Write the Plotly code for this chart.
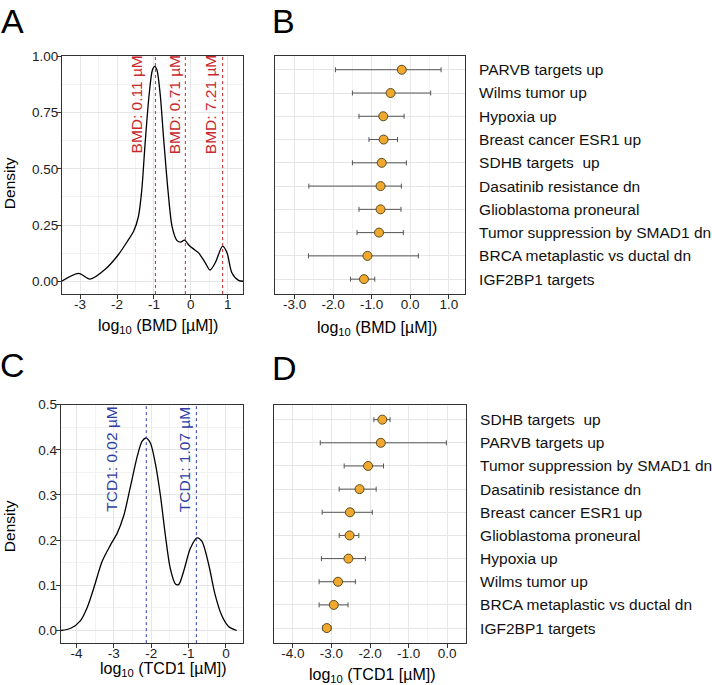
import plotly.graph_objects as go

W, H = 712, 685

# ---------------- data ----------------
# Panel A: density of log10(BMD)
bmd_x = [-3.50, -3.04, -2.73, -2.32, -1.96, -1.69, -1.55, -1.42, -1.33, -1.24, -1.13, -1.04,
         -0.98, -0.92, -0.83, -0.74, -0.62, -0.51, -0.38, -0.28, -0.17, -0.05, 0.10, 0.21,
         0.39, 0.52, 0.66, 0.86, 0.98, 1.11, 1.29, 1.43]
bmd_y = [0.000, 0.035, 0.009, 0.053, 0.119, 0.185, 0.222, 0.288, 0.405, 0.611, 0.831, 0.941,
         0.956, 0.941, 0.831, 0.640, 0.405, 0.244, 0.182, 0.174, 0.183, 0.160, 0.140, 0.126,
         0.082, 0.050, 0.082, 0.156, 0.126, 0.038, 0.004, 0.000]
bmd_lines = [-0.96, -0.15, 0.86]
bmd_line_labels = ["BMD: 0.11 µM", "BMD: 0.71 µM", "BMD: 7.21 µM"]

# Panel B
b_sets = ["PARVB targets up", "Wilms tumor up", "Hypoxia up", "Breast cancer ESR1 up",
          "SDHB targets  up", "Dasatinib resistance dn", "Glioblastoma proneural",
          "Tumor suppression by SMAD1 dn", "BRCA metaplastic vs ductal dn", "IGF2BP1 targets"]
b_mid = [-0.22, -0.51, -0.70, -0.69, -0.74, -0.77, -0.77, -0.81, -1.11, -1.20]
b_low = [-1.94, -1.50, -1.33, -1.07, -1.50, -2.63, -1.33, -1.38, -2.64, -1.55]
b_high = [0.80, 0.53, -0.16, -0.33, -0.10, -0.23, -0.24, -0.18, 0.21, -0.92]

# Panel C: density of log10(TCD1)
tcd_x = [-4.42, -4.15, -3.89, -3.71, -3.53, -3.31, -3.09, -2.91, -2.73, -2.55, -2.37, -2.24,
         -2.13, -2.02, -1.89, -1.75, -1.62, -1.49, -1.35, -1.26, -1.13, -0.95, -0.77, -0.64,
         -0.46, -0.29, -0.11, 0.07, 0.29]
tcd_y = [0.000, 0.005, 0.022, 0.051, 0.095, 0.153, 0.189, 0.215, 0.255, 0.320, 0.386, 0.419,
         0.426, 0.415, 0.371, 0.298, 0.211, 0.138, 0.103, 0.102, 0.131, 0.182, 0.205, 0.197,
         0.146, 0.080, 0.033, 0.009, 0.000]
tcd_lines = [-2.13, -0.79]
tcd_line_labels = ["TCD1: 0.02 µM", "TCD1: 1.07 µM"]

# Panel D
d_sets = ["SDHB targets  up", "PARVB targets up", "Tumor suppression by SMAD1 dn",
          "Dasatinib resistance dn", "Breast cancer ESR1 up", "Glioblastoma proneural",
          "Hypoxia up", "Wilms tumor up", "BRCA metaplastic vs ductal dn", "IGF2BP1 targets"]
d_mid = [-1.68, -1.72, -2.05, -2.27, -2.52, -2.53, -2.56, -2.83, -2.94, -3.12]
d_low = [-1.90, -3.29, -2.67, -2.80, -3.24, -2.80, -3.26, -3.32, -3.32, -3.23]
d_high = [-1.48, -0.02, -1.65, -1.84, -1.94, -2.29, -2.12, -2.38, -2.57, -3.01]

a_xticks = [-3, -2, -1, 0, 1]
a_xlabels = ["-3", "-2", "-1", "0", "1"]
a_yticks = [0, 0.25, 0.5, 0.75, 1.0]
a_ylabels = ["0.00", "0.25", "0.50", "0.75", "1.00"]
b_xticks = [-3, -2, -1, 0, 1]
b_xlabels = ["-3.0", "-2.0", "-1.0", "0.0", "1.0"]
c_xticks = [-4, -3, -2, -1, 0]
c_xlabels = ["-4", "-3", "-2", "-1", "0"]
c_yticks = [0, 0.1, 0.2, 0.3, 0.4, 0.5]
c_ylabels = ["0.0", "0.1", "0.2", "0.3", "0.4", "0.5"]
d_xticks = [-4, -3, -2, -1, 0]
d_xlabels = ["-4.0", "-3.0", "-2.0", "-1.0", "0.0"]

# ---------------- style ----------------
FONT = "Arial, Liberation Sans, sans-serif"
RED = "#C8282D"
BLUE = "#2F3FA6"
GRID = "#E6E6E6"
GRID_MINOR = "#F2F2F2"
AXC = "#333333"
ORANGE = "#F0A82E"


def px(x):
    return x / W


def py(y):
    return 1 - y / H


def axis_common(**kw):
    d = dict(showline=True, linecolor=AXC, linewidth=1, mirror=True,
             showgrid=True, gridcolor=GRID, gridwidth=1, zeroline=False,
             tickfont=dict(family=FONT, size=13.5, color="#222222"),
             ticks="outside", ticklen=4, tickcolor=AXC, tickwidth=1)
    d.update(kw)
    return d


fig = go.Figure()

# Panel A
fig.add_trace(go.Scatter(x=bmd_x, y=bmd_y, mode="lines", line=dict(color="black", width=1.3, shape="spline", smoothing=0.8),
                         xaxis="x", yaxis="y", showlegend=False, hoverinfo="skip"))
# Panel C
fig.add_trace(go.Scatter(x=tcd_x, y=tcd_y, mode="lines", line=dict(color="black", width=1.3, shape="spline", smoothing=0.8),
                         xaxis="x3", yaxis="y3", showlegend=False, hoverinfo="skip"))


def disp(s):
    return s.replace("  ", "\u00a0 ")


def forest(sets, mid, low, high, xa, ya):
    fig.add_trace(go.Scatter(
        x=mid, y=sets, mode="markers", xaxis=xa, yaxis=ya, showlegend=False,
        marker=dict(size=9, color=ORANGE, line=dict(color="#5A4A22", width=1)),
        error_x=dict(type="data", symmetric=False,
                     array=[h - m for h, m in zip(high, mid)],
                     arrayminus=[m - l for m, l in zip(mid, low)],
                     color="#555555", thickness=1, width=2.5)))


forest(b_sets, b_mid, b_low, b_high, "x2", "y2")
forest(d_sets, d_mid, d_low, d_high, "x4", "y4")

shapes = []
annotations = []

for v, lab, dx in zip(bmd_lines, bmd_line_labels, [-18.5, -11, -12.5]):
    shapes.append(dict(type="line", xref="x", yref="y domain", x0=v, x1=v, y0=0, y1=1,
                       line=dict(color=RED, width=1, dash="dot")))
    annotations.append(dict(x=v, xref="x", y=py(47), yref="paper", text=lab, textangle=-90,
                            showarrow=False, xanchor="center", yanchor="top", xshift=dx,
                            font=dict(family=FONT, size=15.5, color=RED)))

for v, lab, dx in zip(tcd_lines, tcd_line_labels, [-35, -11.5]):
    shapes.append(dict(type="line", xref="x3", yref="y3 domain", x0=v, x1=v, y0=0, y1=1,
                       line=dict(color=BLUE, width=1, dash="dot")))
    annotations.append(dict(x=v, xref="x3", y=py(402), yref="paper", text=lab, textangle=-90,
                            showarrow=False, xanchor="center", yanchor="top", xshift=dx,
                            font=dict(family=FONT, size=15.5, color=BLUE)))

# panel letters
for lab, x, y in [("A", 12.5, 14), ("B", 283, 14), ("C", 12, 362), ("D", 284, 365)]:
    annotations.append(dict(x=px(x), y=py(y), xref="paper", yref="paper", text=lab, showarrow=False,
                            xanchor="center", yanchor="middle", font=dict(family=FONT, size=34, color="black")))

# axis titles
for txt, x, y in [("log<sub>10</sub> (BMD [µM])", 158, 323),
                  ("log<sub>10</sub> (BMD [µM])", 377, 325),
                  ("log<sub>10</sub> (TCD1 [µM])", 163, 669),
                  ("log<sub>10</sub> (TCD1 [µM])", 372, 675)]:
    annotations.append(dict(x=px(x), y=py(y), xref="paper", yref="paper", text=txt, showarrow=False,
                            xanchor="center", yanchor="middle", font=dict(family=FONT, size=16, color="black")))
for x, y in [(9, 178), (9.5, 525)]:
    annotations.append(dict(x=px(x), y=py(y), xref="paper", yref="paper", text="Density", showarrow=False,
                            textangle=-90, xanchor="center", yanchor="middle",
                            font=dict(family=FONT, size=15.5, color="black")))

minor_grid = dict(showgrid=True, gridcolor=GRID_MINOR, gridwidth=1, ticks="")
XSO = -6
YSO = -4

fig.update_layout(
    width=W, height=H, margin=dict(l=0, r=0, t=0, b=0),
    paper_bgcolor="white", plot_bgcolor="white", showlegend=False,
    font=dict(family=FONT),
    xaxis=axis_common(domain=[px(62), px(243.3)], range=[-3.49, 1.42], anchor="y",
                      tickvals=a_xticks, ticktext=a_xlabels, ticklabelstandoff=XSO,
                      minor=dict(dtick=0.5, **minor_grid)),
    yaxis=axis_common(domain=[py(290), py(50)], range=[-0.057, 1.0], anchor="x",
                      tickvals=a_yticks, ticktext=a_ylabels, ticklabelstandoff=YSO,
                      minor=dict(dtick=0.125, tick0=0, **minor_grid)),
    xaxis2=axis_common(domain=[px(275.3), px(465)], range=[-3.5, 1.42], anchor="y2",
                       tickvals=b_xticks, ticktext=b_xlabels, ticklabelstandoff=XSO,
                       minor=dict(dtick=0.5, tick0=0, **minor_grid)),
    yaxis2=axis_common(domain=[py(290), py(50)], type="category", categoryorder="array",
                       categoryarray=b_sets[::-1], range=[-0.64, 9.57], anchor="x2", side="right",
                       tickvals=b_sets, ticktext=[disp(s) for s in b_sets],
                       ticks="", ticklabelstandoff=10,
                       tickfont=dict(family=FONT, size=15.5, color="#111111")),
    xaxis3=axis_common(domain=[px(60.7), px(242.7)], range=[-4.42, 0.45], anchor="y3",
                       tickvals=c_xticks, ticktext=c_xlabels, ticklabelstandoff=XSO,
                       minor=dict(dtick=0.5, tick0=0, **minor_grid)),
    yaxis3=axis_common(domain=[py(642.7), py(401.7)], range=[-0.028, 0.5], anchor="x3",
                       tickvals=c_yticks, ticktext=c_ylabels, ticklabelstandoff=YSO,
                       minor=dict(dtick=0.05, tick0=0, **minor_grid)),
    xaxis4=axis_common(domain=[px(274), px(466)], range=[-4.49, 0.49], anchor="y4",
                       tickvals=d_xticks, ticktext=d_xlabels, ticklabelstandoff=XSO,
                       minor=dict(dtick=0.5, tick0=0, **minor_grid)),
    yaxis4=axis_common(domain=[py(642.7), py(401.7)], type="category", categoryorder="array",
                       categoryarray=d_sets[::-1], range=[-0.65, 9.65], anchor="x4", side="right",
                       tickvals=d_sets, ticktext=[disp(s) for s in d_sets],
                       ticks="", ticklabelstandoff=10,
                       tickfont=dict(family=FONT, size=15.5, color="#111111")),
    shapes=shapes, annotations=annotations,
)

fig.write_html("out.html")
